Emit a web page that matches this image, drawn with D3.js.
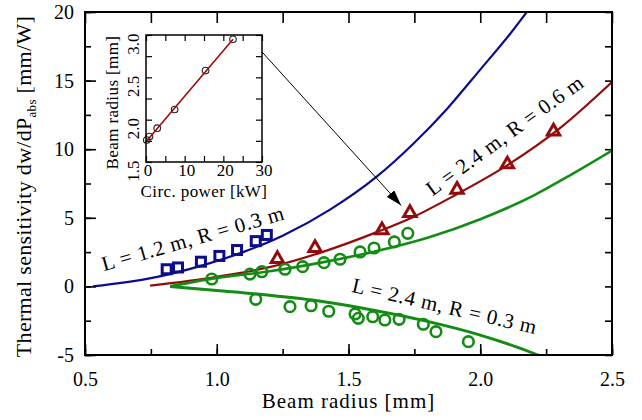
<!DOCTYPE html>
<html>
<head>
<meta charset="utf-8">
<script src="https://cdn.jsdelivr.net/npm/d3@7"></script>
<style>
  body { margin: 0; background: #fff; }
  svg text { font-family: "Liberation Serif", "DejaVu Serif", serif; fill: #000; }
</style>
</head>
<body>
<svg id="chart" width="642" height="420"></svg>
<script>
// ---- model curves (beam radius [mm] -> dw/dP_abs [mm/W]) ----
const blueX = [0.53, 0.75, 0.94, 1.1, 1.25, 1.43, 1.607, 1.746, 1.872, 2.0, 2.113, 2.2];
const blueY = [0, 0.6, 1.5, 2.5, 3.7, 5.6, 8.0, 10.4, 12.9, 15.8, 18.4, 20.6];

const redX = [0.747, 1.0, 1.2, 1.4, 1.6, 1.75, 1.9, 2.1, 2.3, 2.5];
const redY = [0.05, 0.7, 1.4, 2.5, 3.9, 5.1, 6.6, 8.8, 11.5, 14.9];

const greenUpX = [0.823, 1.0, 1.2, 1.4, 1.6, 1.8, 2.0, 2.2, 2.35, 2.5];
const greenUpY = [0.0, 0.62, 1.1, 1.75, 2.55, 3.55, 4.9, 6.6, 8.2, 9.9];

const greenLoX = [0.823, 1.0, 1.2, 1.4, 1.6, 1.8, 2.0, 2.15, 2.25];
const greenLoY = [0, -0.3, -0.65, -1.1, -1.75, -2.55, -3.55, -4.5, -5.25];

// ---- measurements ----
const sqX = [0.81, 0.853, 0.94, 1.01, 1.077, 1.148, 1.19];
const sqY = [1.25, 1.38, 1.8, 2.22, 2.65, 3.3, 3.75];

const triX = [1.23, 1.373, 1.627, 1.733, 1.912, 2.103, 2.278];
const triY = [2.0, 2.8, 4.1, 5.35, 7.05, 8.9, 11.3];

const circUpX = [0.981, 1.126, 1.171, 1.259, 1.326, 1.407, 1.468, 1.544, 1.597, 1.674, 1.725];
const circUpY = [0.54, 0.9, 1.07, 1.25, 1.44, 1.73, 1.98, 2.51, 2.8, 3.24, 3.87];

const circLoX = [1.148, 1.278, 1.358, 1.425, 1.525, 1.537, 1.592, 1.638, 1.692, 1.784, 1.832, 1.955];
const circLoY = [-0.94, -1.48, -1.41, -1.81, -2.01, -2.33, -2.21, -2.45, -2.4, -2.76, -3.3, -4.03];

// ---- inset: beam radius vs circulating power ----
const insetP = [0.2, 0.9, 2.9, 7.4, 15.4, 22.5];
const insetR = [1.76, 1.8, 1.9, 2.12, 2.58, 2.95];
const fitP = [0, 22.5];
const fitR = [1.74, 2.95];

// ---- labels / ticks ----
const xTicks = [0.5, 1.0, 1.5, 2.0, 2.5];
const yTicks = [-5, 0, 5, 10, 15, 20];
const insetXTicks = [0, 10, 20, 30];
const insetYTicks = [1.5, 2.0, 2.5, 3.0];

const curveLabels = [
    { text: "L = 1.2 m, R = 0.3 m", x: 0.917, y: 3.0, angle: -16 },
    { text: "L = 2.4 m, R = 0.6 m", x: 2.109, y: 10.6, angle: -36 },
    { text: "L = 2.4 m, R = 0.3 m", x: 1.859, y: -1.94, angle: 13 }
];
const arrowFrom = [30, 2.8];   // inset coordinates
const arrowTo = [1.70, 5.9];   // main coordinates

const blue = "#0c0c8c", red = "#930c0c", green = "#138c13";

const svg = d3.select("#chart");
const x = d3.scaleLinear().domain([0.5, 2.5]).range([85, 612]);
const y = d3.scaleLinear().domain([-5, 20]).range([355, 12]);

svg.append("defs").append("clipPath").attr("id", "plotclip")
    .append("rect")
    .attr("x", x(0.5)).attr("y", y(20))
    .attr("width", x(2.5) - x(0.5)).attr("height", y(-5) - y(20));

function tickAxis(axis, transform) {
    const g = svg.append("g").attr("transform", transform).call(axis);
    g.select(".domain").remove();
    g.selectAll("line").attr("stroke", "#000").attr("stroke-width", 1.6);
    g.selectAll("text").style("font-size", "20px");
    return g;
}

const minorX = d3.range(0.5, 2.51, 0.25);
const minorY = d3.range(-5, 20.1, 2.5);

tickAxis(d3.axisBottom(x).tickValues(minorX).tickSizeInner(-6).tickSizeOuter(0).tickFormat(""), `translate(0,${y(-5)})`);
tickAxis(d3.axisBottom(x).tickValues(xTicks).tickSizeInner(-11).tickSizeOuter(0).tickPadding(17).tickFormat(d3.format(".1f")), `translate(0,${y(-5)})`);
tickAxis(d3.axisTop(x).tickValues(minorX).tickSizeInner(-11).tickSizeOuter(0).tickFormat(""), `translate(0,${y(20)})`);
tickAxis(d3.axisLeft(y).tickValues(minorY).tickSizeInner(-6).tickSizeOuter(0).tickFormat(""), `translate(${x(0.5)},0)`);
tickAxis(d3.axisLeft(y).tickValues(yTicks).tickSizeInner(-11).tickSizeOuter(0).tickPadding(11).tickFormat(d => d < 0 ? "-" + Math.abs(d) : d), `translate(${x(0.5)},0)`);
tickAxis(d3.axisRight(y).tickValues(minorY).tickSizeInner(-7).tickSizeOuter(0).tickFormat(""), `translate(${x(2.5)},0)`);

// curves
const plot = svg.append("g").attr("clip-path", "url(#plotclip)");
function drawCurve(xs, ys, color, width) {
    const pts = xs.map((v, i) => [v, ys[i]]);
    plot.append("path")
        .attr("d", d3.line().x(d => x(d[0])).y(d => y(d[1])).curve(d3.curveMonotoneX)(pts))
        .attr("fill", "none").attr("stroke", color).attr("stroke-width", width);
}
drawCurve(blueX, blueY, blue, 2.2);
drawCurve(redX, redY, red, 2.2);
drawCurve(greenUpX, greenUpY, green, 2.6);
drawCurve(greenLoX, greenLoY, green, 3);

// markers
plot.selectAll(".sq").data(sqX.map((v, i) => [v, sqY[i]])).enter().append("rect")
    .attr("x", d => x(d[0]) - 4.5).attr("y", d => y(d[1]) - 4.5)
    .attr("width", 9).attr("height", 9)
    .attr("fill", "none").attr("stroke", blue).attr("stroke-width", 3);

plot.selectAll(".tri").data(triX.map((v, i) => [v, triY[i]])).enter().append("path")
    .attr("d", d3.symbol(d3.symbolTriangle).size(66))
    .attr("transform", d => `translate(${x(d[0])},${y(d[1])})`)
    .attr("fill", "none").attr("stroke", red).attr("stroke-width", 3);

plot.selectAll(".cu").data(circUpX.map((v, i) => [v, circUpY[i]]).concat(circLoX.map((v, i) => [v, circLoY[i]])))
    .enter().append("circle")
    .attr("cx", d => x(d[0])).attr("cy", d => y(d[1])).attr("r", 5.3)
    .attr("fill", "none").attr("stroke", green).attr("stroke-width", 2.6);

// frame
svg.append("rect")
    .attr("x", x(0.5)).attr("y", y(20))
    .attr("width", x(2.5) - x(0.5)).attr("height", y(-5) - y(20))
    .attr("fill", "none").attr("stroke", "#000").attr("stroke-width", 2);

// curve labels
curveLabels.forEach(l => {
    svg.append("text")
        .attr("transform", `translate(${x(l.x)},${y(l.y)}) rotate(${l.angle})`)
        .attr("text-anchor", "middle")
        .style("font-size", "21px")
        .style("letter-spacing", "0.6px")
        .text(l.text);
});

// axis titles
svg.append("text")
    .attr("x", (x(0.5) + x(2.5)) / 2).attr("y", 408)
    .attr("text-anchor", "middle").style("font-size", "21px")
    .style("letter-spacing", "1px")
    .text("Beam radius [mm]");

const yt = svg.append("text")
    .attr("transform", `translate(31,${(y(-5) + y(20)) / 2 + 3}) rotate(-90)`)
    .attr("text-anchor", "middle").style("font-size", "22px")
    .style("letter-spacing", "0.3px");
yt.append("tspan").text("Thermal sensitivity dw/dP");
yt.append("tspan").attr("dy", 5).style("font-size", "13px").text("abs");
yt.append("tspan").attr("dy", -5).text(" [mm/W]");

// ---- inset ----
const xi = d3.scaleLinear().domain([0, 30]).range([146, 262]);
const yi = d3.scaleLinear().domain([1.5, 3.0]).range([162, 35]);

svg.append("rect")
    .attr("x", xi(0)).attr("y", yi(3)).attr("width", xi(30) - xi(0)).attr("height", yi(1.5) - yi(3))
    .attr("fill", "#fff");

function insetAxis(axis, transform) {
    const g = svg.append("g").attr("transform", transform).call(axis);
    g.select(".domain").remove();
    g.selectAll("line").attr("stroke", "#000").attr("stroke-width", 1.2);
    return g;
}
const iMinorX = d3.range(0, 30.1, 5);
const iMinorY = d3.range(1.5, 3.01, 0.25);
insetAxis(d3.axisBottom(xi).tickValues(iMinorX).tickSizeInner(-6).tickSizeOuter(0).tickFormat(""), `translate(0,${yi(1.5)})`);
insetAxis(d3.axisTop(xi).tickValues(iMinorX).tickSizeInner(-6).tickSizeOuter(0).tickFormat(""), `translate(0,${yi(3)})`);
insetAxis(d3.axisLeft(yi).tickValues(iMinorY).tickSizeInner(-6).tickSizeOuter(0).tickFormat(""), `translate(${xi(0)},0)`);
insetAxis(d3.axisRight(yi).tickValues(iMinorY).tickSizeInner(-6).tickSizeOuter(0).tickFormat(""), `translate(${xi(30)},0)`);

svg.selectAll(".ixl").data(insetXTicks).enter().append("text")
    .attr("x", d => xi(d) + 2).attr("y", 176)
    .attr("text-anchor", "middle").style("font-size", "17px")
    .text(d => d);
svg.selectAll(".iyl").data(insetYTicks).enter().append("text")
    .attr("transform", d => `translate(139,${yi(d) + 9}) rotate(-90)`)
    .attr("text-anchor", "middle").style("font-size", "17px")
    .text(d => d.toFixed(1));

const ipts = insetP.map((v, i) => [v, insetR[i]]);
svg.selectAll(".ic").data(ipts).enter().append("circle")
    .attr("cx", d => xi(d[0])).attr("cy", d => yi(d[1])).attr("r", 3.3)
    .attr("fill", "none").attr("stroke", "#222").attr("stroke-width", 1.1);
svg.append("path")
    .attr("d", d3.line().x(d => xi(d[0])).y(d => yi(d[1]))(fitP.map((v, i) => [v, fitR[i]])))
    .attr("stroke", "#a00a0a").attr("stroke-width", 1.6).attr("fill", "none");

svg.append("rect")
    .attr("x", xi(0)).attr("y", yi(3)).attr("width", xi(30) - xi(0)).attr("height", yi(1.5) - yi(3))
    .attr("fill", "none").attr("stroke", "#000").attr("stroke-width", 1.5);

svg.append("text")
    .attr("x", (xi(0) + xi(30)) / 2).attr("y", 197)
    .attr("text-anchor", "middle").style("font-size", "17px")
    .style("letter-spacing", "0.4px")
    .text("Circ. power [kW]");
svg.append("text")
    .attr("transform", `translate(118,${(yi(1.5) + yi(3)) / 2 + 4}) rotate(-90)`)
    .attr("text-anchor", "middle").style("font-size", "17px")
    .style("letter-spacing", "0.4px")
    .text("Beam radius [mm]");

// arrow from inset to the 2.4 m / 0.6 m curve
svg.select("defs").append("marker")
    .attr("id", "head").attr("viewBox", "0 0 16 10")
    .attr("refX", 16).attr("refY", 5)
    .attr("markerWidth", 16).attr("markerHeight", 10)
    .attr("markerUnits", "userSpaceOnUse").attr("orient", "auto")
    .append("path").attr("d", "M0,0 L16,5 L0,10 Z").attr("fill", "#000");
svg.append("line")
    .attr("x1", xi(arrowFrom[0])).attr("y1", yi(arrowFrom[1]))
    .attr("x2", x(arrowTo[0])).attr("y2", y(arrowTo[1]))
    .attr("stroke", "#000").attr("stroke-width", 1)
    .attr("marker-end", "url(#head)");
</script>
</body>
</html>
